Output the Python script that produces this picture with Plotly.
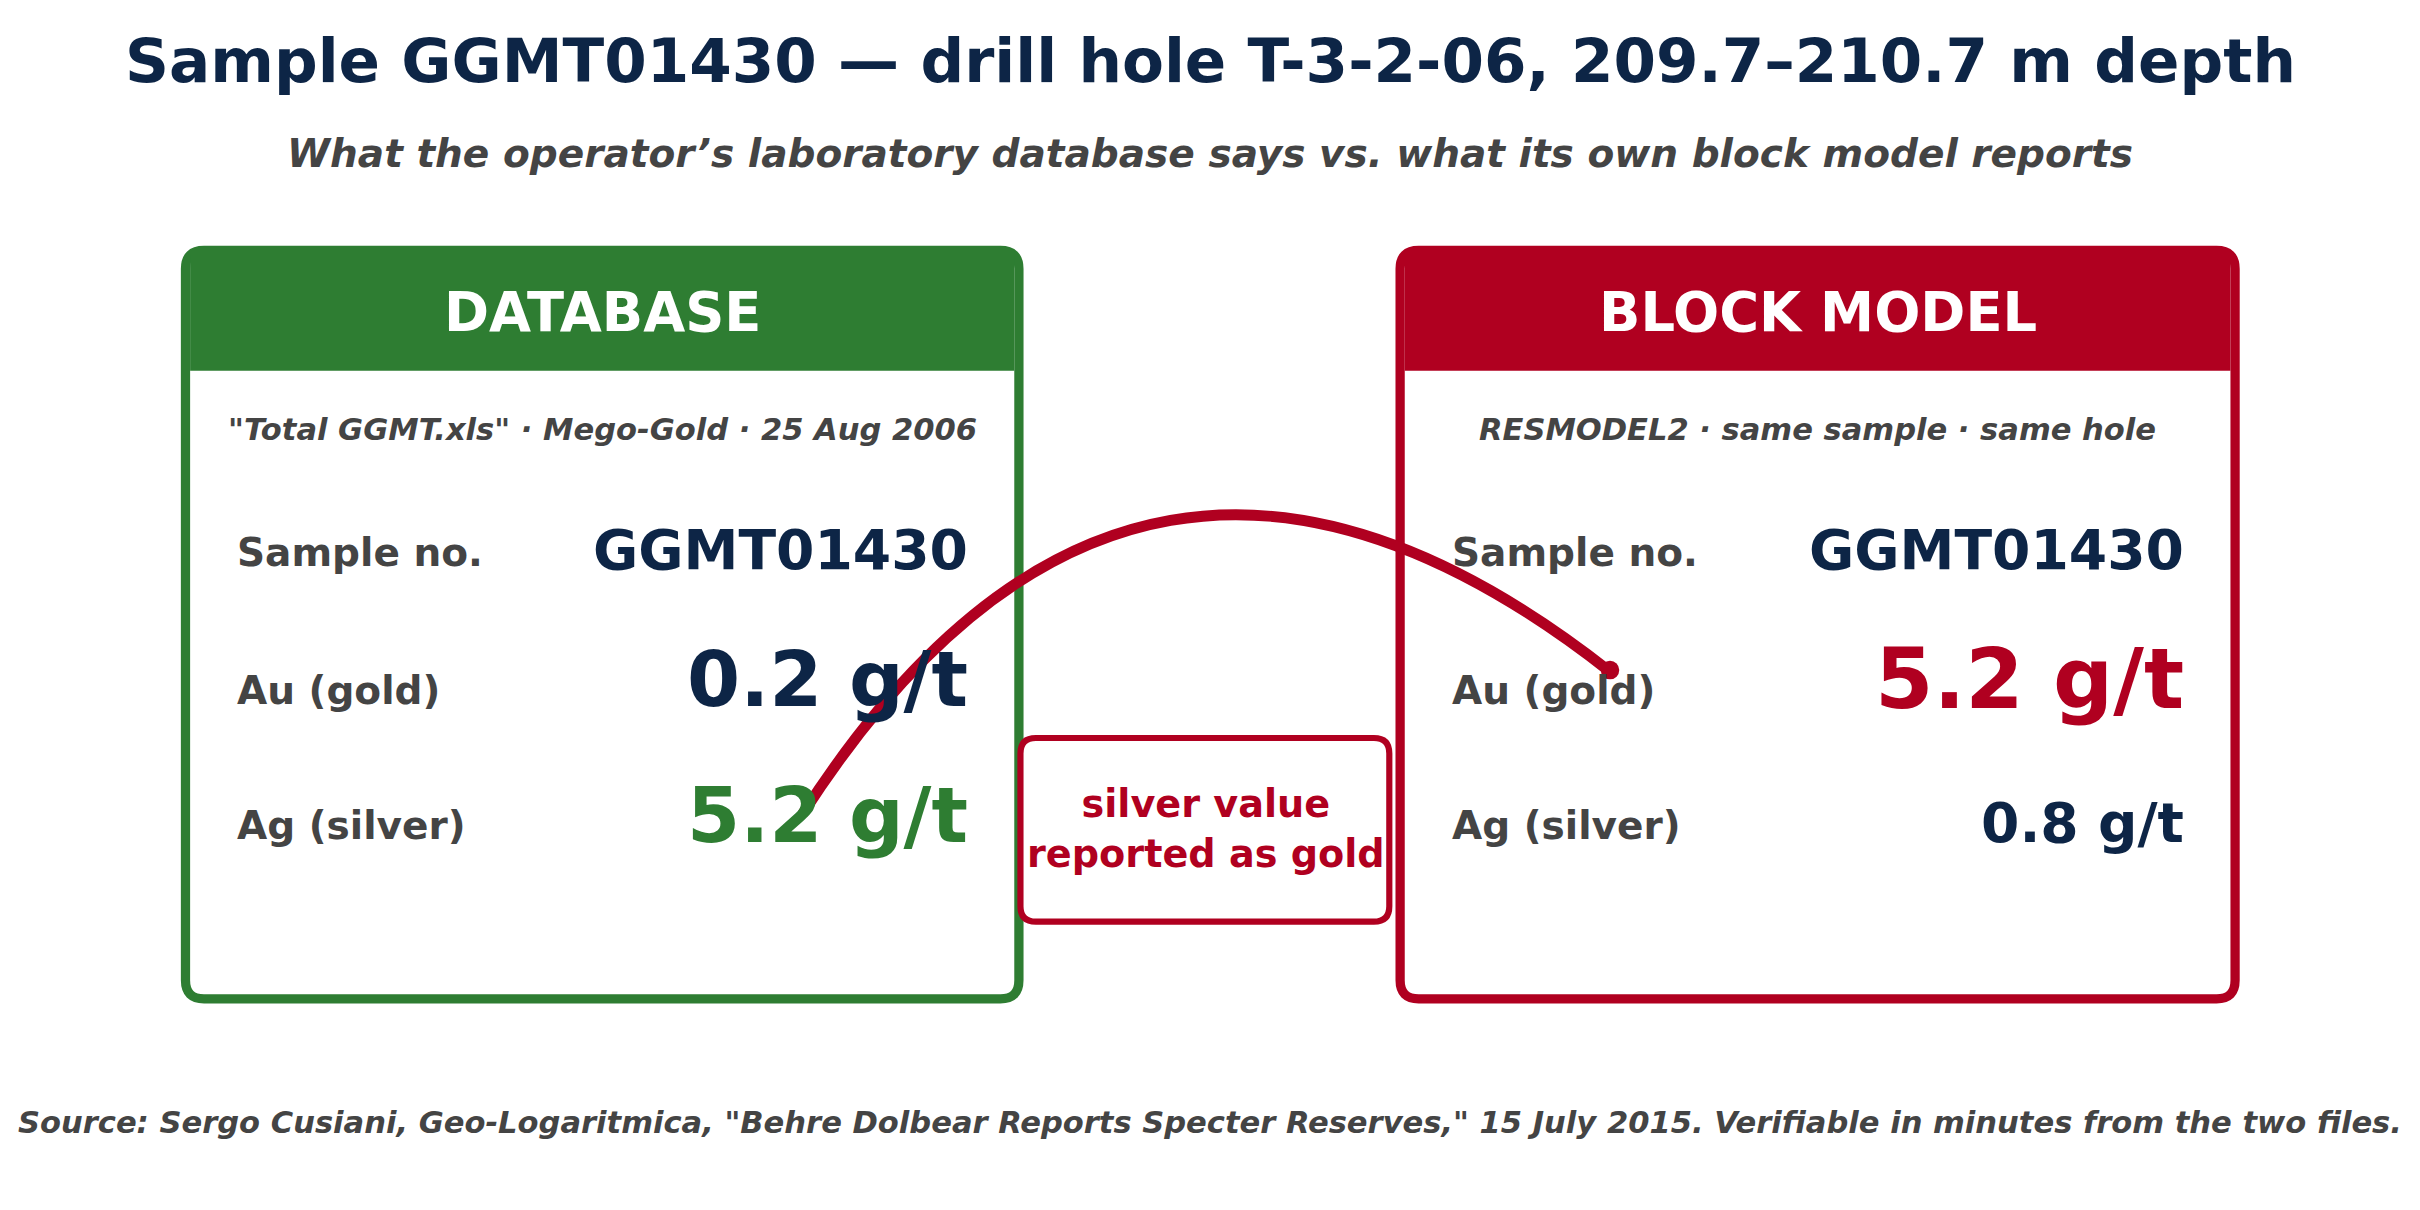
import plotly.graph_objects as go

S = 2420 / 1568.0 * 1.1  # display-to-pixel scale for font sizes

title = "Sample GGMT01430 — drill hole T-3-2-06, 209.7–210.7 m depth"
subtitle = "What the operator’s laboratory database says vs. what its own block model reports"
source = 'Source: Sergo Cusiani, Geo-Logaritmica, "Behre Dolbear Reports Specter Reserves," 15 July 2015. Verifiable in minutes from the two files.'

card_titles = ["DATABASE", "BLOCK MODEL"]
card_sources = ['"Total GGMT.xls" · Mego-Gold · 25 Aug 2006', "RESMODEL2 · same sample · same hole"]
row_labels = ["Sample no.", "Au (gold)", "Ag (silver)"]
db_values = ["GGMT01430", "0.2 g/t", "5.2 g/t"]
bm_values = ["GGMT01430", "5.2 g/t", "0.8 g/t"]
callout = "silver value<br>reported as gold"

NAVY = "#0d2546"
GREEN = "#2e7d32"
RED = "#b00020"
GRAY = "#444444"
FONT = "DejaVu Sans"

def rrect(x0, y0, x1, y1, r):
    return (f"M{x0+r},{y0} L{x1-r},{y0} Q{x1},{y0} {x1},{y0+r} L{x1},{y1-r} "
            f"Q{x1},{y1} {x1-r},{y1} L{x0+r},{y1} Q{x0},{y1} {x0},{y1-r} "
            f"L{x0},{y0+r} Q{x0},{y0} {x0+r},{y0} Z")

fig = go.Figure()
shapes = []
ann = []

def text(x, y, t, size, color, xanchor="center", italic=False, bold=True):
    s = t
    if bold:
        s = f"<b>{s}</b>"
    if italic:
        s = f"<i>{s}</i>"
    ann.append(dict(x=x, y=y, xref="x", yref="y", text=s, showarrow=False,
                    xanchor=xanchor, yanchor="middle",
                    font=dict(family=FONT, size=size * S, color=color)))

text(784, 39, title, 36, NAVY)
text(784, 99, subtitle, 23, GRAY, italic=True)
text(784, 727, source, 18, GRAY, italic=True)

cards = [(120, 660, GREEN, db_values, [NAVY, NAVY, GREEN], [32.5, 45, 45]),
         (907, 1448, RED, bm_values, [NAVY, RED, NAVY], [32.5, 49.5, 32.5])]
for i, (x0, x1, col, vals, vcols, vsizes) in enumerate(cards):
    shapes.append(dict(type="path", path=rrect(x0, 162, x1, 647, 12), xref="x", yref="y",
                       line=dict(color=col, width=6 * 1.543), fillcolor="white", layer="below"))
    shapes.append(dict(type="rect", x0=x0 + 3, x1=x1 - 3, y0=165, y1=240, xref="x", yref="y",
                       line=dict(width=0), fillcolor=col, layer="below"))
    text((x0 + x1) / 2, 202, card_titles[i], 32, "white")
    text((x0 + x1) / 2, 278, card_sources[i], 18, GRAY, italic=True)
    for j, (ry, vy) in enumerate(zip([358, 447, 535], [356, 440, 528 if i == 0 else 533])):
        text(x0 + 32, ry, row_labels[j], 23, GRAY, xanchor="left")
        text(x1 - 32, vy, vals[j], vsizes[j], vcols[j], xanchor="right")

# callout box
shapes.append(dict(type="path", path=rrect(661, 478, 900, 597, 10), xref="x", yref="y",
                   line=dict(color=RED, width=4 * 1.543), fillcolor="white", layer="above"))
text(781, 537, callout, 22.5, RED)

# curved arrow
shapes.append(dict(type="path", path="M520,527 Q735,193 1043,435", xref="x", yref="y",
                   line=dict(color=RED, width=7 * 1.543), layer="above"))
shapes.append(dict(type="circle", x0=1037, x1=1049, y0=428, y1=440, xref="x", yref="y",
                   line=dict(width=0), fillcolor=RED, layer="above"))

fig.update_layout(
    width=2420, height=1210, margin=dict(l=0, r=0, t=0, b=0),
    paper_bgcolor="white", plot_bgcolor="white",
    xaxis=dict(range=[5, 1573], visible=False, fixedrange=True),
    yaxis=dict(range=[789, 5], visible=False, fixedrange=True),
    shapes=shapes, annotations=ann, showlegend=False,
)
fig.write_html("out.html")
